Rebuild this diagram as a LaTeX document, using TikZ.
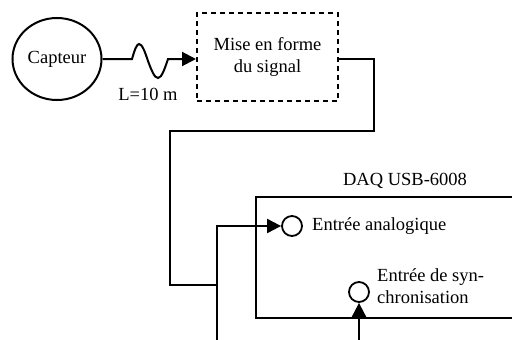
\documentclass[tikz,border=0pt]{standalone}
\usepackage{fontspec}
\setmainfont{Liberation Serif}
\usetikzlibrary{arrows.meta,shapes.geometric,positioning}

\begin{document}
\begin{tikzpicture}[x=1pt,y=-1pt,line width=2pt,font=\fontsize{18.5}{22}\selectfont,
   arr/.style={-{Triangle[length=14pt,width=14pt]}},
   blk/.style n args={2}{draw,rectangle,minimum width=#1pt,minimum height=#2pt,inner sep=0pt},
   port/.style={draw,circle,minimum size=20pt,inner sep=0pt,line width=1.8pt}]
\useasboundingbox (0,0) rectangle (512,340);
\clip (0,0) rectangle (512,340);
\node[draw,ellipse,minimum width=89pt,minimum height=82pt,inner sep=0pt] (cap) at (57,59) {Capteur};
\node[blk={141}{88},dash pattern=on 5pt off 4pt,align=center] (sig) at (267.5,57) {Mise en forme\\du signal};
\node (len) at (148,94) {L=10 m};
\node[blk={298}{121}] (daq) at (405,257.5) {};
\node (daqname) at (405,181) {DAQ USB-6008};
\node[port] (ain) at (292,226) {};
\node[right=5pt of ain] (ainlbl) {Entrée analogique};
\node[port] (sync) at (359,292) {};
\node[right=3pt of sync,yshift=6pt,align=left] (synclbl) {Entrée de syn-\\chronisation};
\coordinate (jn) at (217,285);
\coordinate (bot1) at (217,341);
\coordinate (bot2) at (359,341);
\draw[arr] (cap.east) -- (132,59) sin (139,44) cos (148,61) sin (158,78) cos (168,59) -- (sig.west |- cap.east);
\draw (sig.east |- cap.east) -| (374,131) -| (170,285) -- (jn);
\draw[arr] (bot1) |- (ain.west);
\draw[arr] (bot2) -- (sync.south);
\end{tikzpicture}
\end{document}
